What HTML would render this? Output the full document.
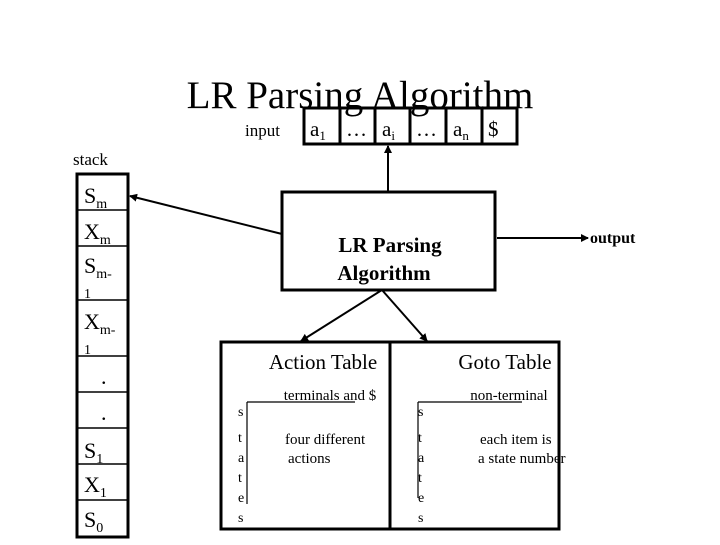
<!DOCTYPE html>
<html><head><style>
body{margin:0;background:#fff;}
svg text{font-family:"Liberation Serif",serif;fill:#000;}
</style></head><body>
<svg width="720" height="540" viewBox="0 0 720 540" xmlns="http://www.w3.org/2000/svg">
<defs><marker id="ah" markerWidth="8" markerHeight="8" refX="7" refY="4" orient="auto" markerUnits="userSpaceOnUse"><path d="M0,0 L8,4 L0,8 z" fill="#000"/></marker></defs>
<text x="360" y="108" font-size="39" text-anchor="middle">LR Parsing Algorithm</text>
<text x="245" y="136" font-size="17">input</text>
<g stroke="#000" stroke-width="3" fill="none">
<rect x="304" y="108" width="213" height="36"/>
<line x1="340" y1="108" x2="340" y2="144"/><line x1="375" y1="108" x2="375" y2="144"/>
<line x1="410" y1="108" x2="410" y2="144"/><line x1="446" y1="108" x2="446" y2="144"/>
<line x1="482" y1="108" x2="482" y2="144"/>
</g>
<g font-size="21">
<text x="310" y="136">a<tspan font-size="13" dy="4">1</tspan></text>
<text x="346" y="136">…</text>
<text x="382" y="136">a<tspan font-size="13" dy="4">i</tspan></text>
<text x="416" y="136">…</text>
<text x="453" y="136">a<tspan font-size="13" dy="4">n</tspan></text>
<text x="488" y="136">$</text>
</g>
<text x="73" y="165" font-size="17">stack</text>
<g stroke="#000" stroke-width="3" fill="none">
<rect x="77" y="174" width="51" height="363"/>
</g>
<g stroke="#000" stroke-width="1.5">
<line x1="77" y1="210" x2="128" y2="210"/><line x1="77" y1="246" x2="128" y2="246"/>
<line x1="77" y1="300" x2="128" y2="300"/><line x1="77" y1="356" x2="128" y2="356"/>
<line x1="77" y1="392" x2="128" y2="392"/><line x1="77" y1="428" x2="128" y2="428"/>
<line x1="77" y1="464" x2="128" y2="464"/><line x1="77" y1="500" x2="128" y2="500"/>
</g>
<g font-size="22">
<text x="84" y="203">S<tspan font-size="14" dy="5">m</tspan></text>
<text x="84" y="239">X<tspan font-size="14" dy="5">m</tspan></text>
<text x="84" y="273">S<tspan font-size="14" dy="5">m-</tspan></text>
<text x="84" y="298" font-size="14">1</text>
<text x="84" y="329">X<tspan font-size="14" dy="5">m-</tspan></text>
<text x="84" y="354" font-size="14">1</text>
<text x="101" y="384">.</text>
<text x="101" y="420">.</text>
<text x="84" y="458">S<tspan font-size="14" dy="5">1</tspan></text>
<text x="84" y="492">X<tspan font-size="14" dy="5">1</tspan></text>
<text x="84" y="527">S<tspan font-size="14" dy="5">0</tspan></text>
</g>
<rect x="282" y="192" width="213" height="98" stroke="#000" stroke-width="3" fill="none"/>
<text x="390" y="252" font-size="21" font-weight="bold" text-anchor="middle">LR Parsing</text>
<text x="384" y="280" font-size="21" font-weight="bold" text-anchor="middle">Algorithm</text>
<g stroke="#000" stroke-width="2" fill="none">
<line x1="388" y1="192" x2="388" y2="146" marker-end="url(#ah)"/>
<line x1="282" y1="234" x2="130" y2="196" marker-end="url(#ah)"/>
<line x1="497" y1="238" x2="588" y2="238" marker-end="url(#ah)"/>
<line x1="382" y1="290" x2="301" y2="341" marker-end="url(#ah)"/>
<line x1="382" y1="290" x2="427" y2="341" marker-end="url(#ah)"/>
</g>
<text x="590" y="243" font-size="16" font-weight="bold" font-family="Liberation Sans">output</text>
<g stroke="#000" stroke-width="3" fill="none">
<rect x="221" y="342" width="338" height="187"/>
<line x1="390" y1="342" x2="390" y2="529"/>
</g>
<text x="323" y="369" font-size="21" text-anchor="middle">Action Table</text>
<text x="505" y="369" font-size="21" text-anchor="middle">Goto Table</text>
<text x="330" y="400" font-size="15" text-anchor="middle">terminals and $</text>
<text x="509" y="400" font-size="15" text-anchor="middle">non-terminal</text>
<g stroke="#000" stroke-width="1.2">
<line x1="247" y1="402" x2="355" y2="402"/><line x1="247" y1="402" x2="247" y2="504"/>
<line x1="418" y1="402" x2="522" y2="402"/><line x1="418" y1="402" x2="418" y2="498"/>
</g>
<g font-size="14">
<text x="238" y="416">s</text><text x="238" y="442">t</text><text x="238" y="462">a</text><text x="238" y="482">t</text><text x="238" y="502">e</text><text x="238" y="522">s</text>
<text x="418" y="416">s</text><text x="418" y="442">t</text><text x="418" y="462">a</text><text x="418" y="482">t</text><text x="418" y="502">e</text><text x="418" y="522">s</text>
</g>
<g font-size="15">
<text x="285" y="444">four different</text>
<text x="288" y="463">actions</text>
<text x="480" y="444">each item is</text>
<text x="478" y="463">a state number</text>
</g>
</svg>
</body></html>
